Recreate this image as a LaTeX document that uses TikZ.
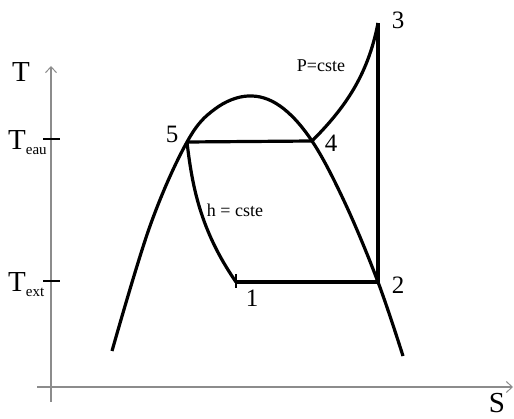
\documentclass[tikz,border=0pt]{standalone}
\usepackage{fontspec}
\setmainfont{Liberation Serif}
\usetikzlibrary{arrows.meta}
\begin{document}
\begin{tikzpicture}[x=1pt,y=-1pt,
  axis/.style={draw=black!45,line width=1.3pt,-{Straight Barb[length=6pt,width=11pt,line width=1pt]}},
  thick line/.style={line width=3.2pt,black},
  tick/.style={line width=1.8pt,black},
  bignum/.style={font=\fontsize{25}{25}\selectfont,inner sep=0pt},
  lab/.style={font=\fontsize{18}{18}\selectfont,inner sep=0pt},
  axlab/.style={font=\fontsize{29}{29}\selectfont,inner sep=0pt}]
\useasboundingbox (0,0) rectangle (514,419);
% axes
\coordinate (o1) at (51,402);
\coordinate (yt) at (51,66);
\coordinate (o2) at (37,387);
\coordinate (xt) at (513,387);
\draw[axis] (o1) -- (yt);
\draw[axis] (o2) -- (xt);
\node[axlab] (T) at (21,72) {T};
\node[axlab] (S) at (497,403) {S};
% ticks
\coordinate (teau) at (43,139);
\coordinate (text) at (43,281);
\draw[tick] (teau) -- ++(17,0);
\draw[tick] (text) -- ++(17,0);
\node[axlab,anchor=base west] (Teau) at (8,150) {T\raisebox{-0.35ex}{\fontsize{15}{15}\selectfont eau}};
\node[axlab,anchor=base west] (Text) at (8,292) {T\raisebox{-0.35ex}{\fontsize{15}{15}\selectfont ext}};
% points
\coordinate (p1) at (236,282);
\coordinate (p2) at (378,282);
\coordinate (p3) at (378,23);
\coordinate (p4) at (312,141);
\coordinate (p5) at (187,142);
% dome
\draw[thick line] plot[smooth,tension=0.6] coordinates {(112,351) (150,226) (187,142) (215,109) (248,96) (280,106) (312,141) (345,203) (378,282) (403,356)};
% cycle
\draw[thick line] (p5) -- (p4);
\draw[thick line] (p1) -- (p2);
\draw[thick line] (p2) -- (p3);
\draw[thick line] (p4) .. controls (345,108) and (368,75) .. (p3);
\draw[thick line] (p5) .. controls (192,185) and (200,230) .. (p1);
\draw[tick] (p1) ++(0,-8) -- ++(0,14);
% labels
\node[bignum] (l5) at (172,134) {5};
\node[bignum] (l4) at (331,143) {4};
\node[bignum] (l3) at (398,20) {3};
\node[bignum] (l2) at (398,285) {2};
\node[bignum] (l1) at (252,298) {1};
\node[lab] (h) at (235,210) {h = cste};
\node[lab] (P) at (321,66) {P=cste};
\end{tikzpicture}
\end{document}
